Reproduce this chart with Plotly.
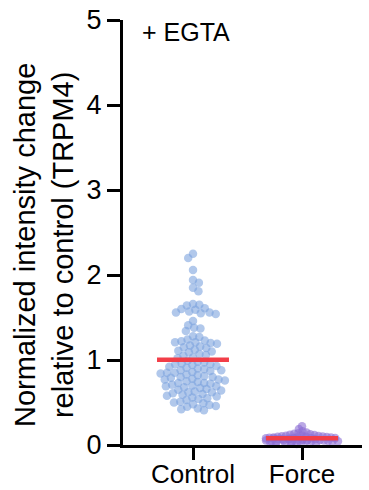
import math
import plotly.graph_objects as go

# Normalized TRPM4 intensity change, + EGTA condition
categories = ["Control", "Force"]

control_values = [
    2.25, 2.20, 2.06, 1.94, 1.91, 1.85, 1.81, 1.66, 1.65, 1.64,
    1.61, 1.60, 1.59, 1.57, 1.56, 1.56, 1.55, 1.54, 1.46, 1.41,
    1.38, 1.37, 1.34, 1.28, 1.27,
    1.24, 1.23, 1.22, 1.21, 1.21, 1.20, 1.19, 1.17, 1.16, 1.15,
    1.14, 1.12, 1.11, 1.10, 1.09, 1.07, 1.06, 1.05, 1.03, 1.02,
    0.99, 0.98, 0.97, 0.96, 0.95, 0.95, 0.94, 0.93, 0.92, 0.91,
    0.90, 0.89, 0.88, 0.88, 0.87, 0.86, 0.85, 0.85, 0.84, 0.83,
    0.82, 0.81, 0.80, 0.80, 0.79, 0.78, 0.77, 0.77, 0.76, 0.75,
    0.74, 0.73, 0.73, 0.72, 0.71, 0.70, 0.69, 0.69, 0.68, 0.67,
    0.66, 0.65, 0.64, 0.63, 0.62, 0.62, 0.61, 0.60, 0.59, 0.58,
    0.57, 0.56, 0.55, 0.54, 0.53, 0.51, 0.50, 0.49, 0.48, 0.47,
    0.46, 0.45, 0.43, 0.42, 0.41,
]

force_values = [
    0.221, 0.188, 0.162, 0.148, 0.139, 0.131, 0.127, 0.122, 0.118, 0.113,
    0.109, 0.106, 0.103, 0.101, 0.098, 0.096, 0.093, 0.091, 0.089, 0.087,
    0.085, 0.083, 0.081, 0.079, 0.078, 0.076, 0.074, 0.072, 0.071, 0.069,
    0.067, 0.066, 0.064, 0.062, 0.061, 0.059, 0.057, 0.055, 0.054, 0.052,
    0.050, 0.048, 0.046, 0.044, 0.042, 0.040, 0.038, 0.035, 0.033, 0.030,
    0.027, 0.024, 0.020, 0.016, 0.012,
]

y_ticks = [0, 1, 2, 3, 4, 5]

# figure geometry (pixels)
W, H = 369, 490
M_L, M_R, M_T, M_B = 123, 7, 20, 45
X_RANGE = [-0.642, 1.55]
Y_RANGE = [0, 5]
px_x = (W - M_L - M_R) / (X_RANGE[1] - X_RANGE[0])
px_y = (H - M_T - M_B) / (Y_RANGE[1] - Y_RANGE[0])


def swarm_offsets(values, spacing, max_half):
    """Beeswarm layout: horizontal pixel offsets so points don't collide."""
    order = sorted(range(len(values)), key=lambda i: -values[i])
    placed = []
    offsets = [0.0] * len(values)
    flip = 1
    for i in order:
        y = values[i] * px_y
        blocked = []
        for (xj, yj) in placed:
            dy = abs(y - yj)
            if dy < spacing:
                dx = math.sqrt(spacing ** 2 - dy ** 2)
                blocked.append((xj - dx, xj + dx))
        cands = [0.0]
        for a, b in blocked:
            cands += [a, b]
        ok = [c for c in cands
              if all(not (a + 1e-9 < c < b - 1e-9) for a, b in blocked)]
        ok.sort(key=lambda c: (round(abs(c), 6), -flip * c))
        best = ok[0]
        if abs(best) > max_half:
            # too wide: fall back to least-crowded spot inside the limit
            grid = [k * 0.5 for k in range(int(-max_half * 2), int(max_half * 2) + 1)]
            best = min(grid, key=lambda c: sum(
                1 for (xj, yj) in placed
                if math.hypot(c - xj, y - yj) < spacing))
        flip = -flip
        offsets[i] = best
        placed.append((best, y))
    return [o / px_x for o in offsets]


groups = [
    (control_values, 6.4, 38, "rgba(120,160,220,0.58)"),
    (force_values, 4.2, 36, "rgba(140,110,212,0.6)"),
]

fig = go.Figure()

for k, (vals, spacing, max_half, color) in enumerate(groups):
    offs = swarm_offsets(vals, spacing, max_half)
    fig.add_trace(go.Scatter(
        x=[k + o for o in offs], y=vals, mode="markers",
        marker=dict(size=8.5, color=color, line=dict(width=0)),
        cliponaxis=False, showlegend=False, hoverinfo="y",
    ))

# mean bars
for k, (vals, *_rest) in enumerate(groups):
    m = sum(vals) / len(vals)
    fig.add_trace(go.Scatter(
        x=[k - 0.33, k + 0.33], y=[m, m], mode="lines",
        line=dict(color="rgb(242,62,72)", width=4.5),
        cliponaxis=False, showlegend=False, hoverinfo="skip",
    ))

font_family = "Liberation Sans, Arial, sans-serif"

fig.update_layout(
    width=W, height=H,
    margin=dict(l=M_L, r=M_R, t=M_T, b=M_B, pad=0, autoexpand=False),
    paper_bgcolor="white", plot_bgcolor="white",
    font=dict(family=font_family, size=26, color="black"),
    xaxis=dict(
        range=X_RANGE, tickvals=[0, 1], ticktext=categories,
        showline=True, linewidth=3, linecolor="black",
        ticks="outside", ticklen=12, tickwidth=3, tickcolor="black",
        showgrid=False, zeroline=False, tickfont=dict(size=26),
        ticklabelstandoff=-8, automargin=False,
    ),
    yaxis=dict(
        range=Y_RANGE, tickvals=y_ticks,
        showline=True, linewidth=3, linecolor="black",
        ticks="outside", ticklen=13, tickwidth=3, tickcolor="black",
        showgrid=False, zeroline=False, tickfont=dict(size=27),
        automargin=False,
    ),
    annotations=[
        dict(
            text="Normalized intensity change<br>relative to control (TRPM4)",
            textangle=-90, xref="paper", yref="paper",
            x=(44 - M_L) / (W - M_L - M_R), y=(H - M_B - 245) / (H - M_T - M_B),
            xanchor="center", yanchor="middle", showarrow=False,
            font=dict(size=29, family=font_family),
        ),
        dict(
            text="+ EGTA", xref="paper", yref="paper",
            x=(140 - M_L) / (W - M_L - M_R), y=(H - M_B - 32) / (H - M_T - M_B),
            xanchor="left", yanchor="middle", showarrow=False,
            font=dict(size=25, family=font_family),
        ),
    ],
)

fig.write_html("out.html")
